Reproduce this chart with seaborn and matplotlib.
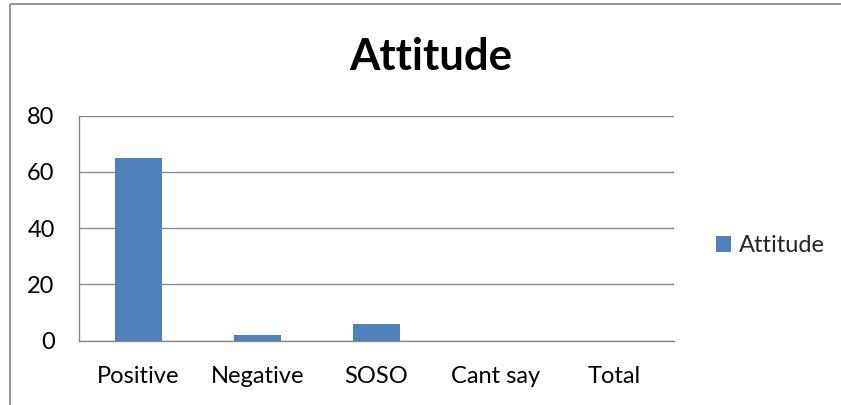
import matplotlib
matplotlib.use("Agg")
import matplotlib.pyplot as plt
from matplotlib.lines import Line2D
from matplotlib.patches import Patch
import seaborn as sns

categories = ["Positive", "Negative", "SOSO", "Cant say", "Total"]
attitude_values = [65, 2, 6, 0, 0]
y_ticks = [0, 20, 40, 60, 80]
series_name = "Attitude"
chart_title = "Attitude"

BAR_COLOR = "#4F81BD"
GRID_COLOR = "#868686"
FRAME_COLOR = "#8C8C8C"
LABEL_SIZE = 17
LINE_W = 0.95

sns.set_theme(style="white")
plt.rcParams["font.family"] = ["Lato", "DejaVu Sans"]

W, H = 841, 405
fig = plt.figure(figsize=(W / 100, H / 100), dpi=100)

# chart frame: top and left edges (the rest runs off the image)
fig.add_artist(Line2D([9.5 / W, 1.1], [(H - 4) / H, (H - 4) / H], transform=fig.transFigure,
                      color=FRAME_COLOR, linewidth=1.3, solid_capstyle="butt"))
fig.add_artist(Line2D([9.5 / W, 9.5 / W], [-0.1, (H - 4) / H], transform=fig.transFigure,
                      color=FRAME_COLOR, linewidth=1.3, solid_capstyle="butt"))

left, right, top, bottom = 79, 674, 115.7, 340.7
ax = fig.add_axes([left / W, (H - bottom) / H, (right - left) / W, (bottom - top) / H])

sns.barplot(x=categories, y=attitude_values, color=BAR_COLOR, width=0.4,
            saturation=1, linewidth=0, ax=ax, zorder=3)

ax.set_xlim(-0.5, len(categories) - 0.5)
ax.set_ylim(0, 80)
ax.set_yticks(y_ticks)
ax.set_yticklabels([str(v) for v in y_ticks])
ax.yaxis.grid(True, color=GRID_COLOR, linewidth=LINE_W)
ax.set_axisbelow(True)

# boundary ticks between categories, labels at category centres
ax.set_xticks([i - 0.5 for i in range(len(categories) + 1)])
ax.set_xticklabels([])
ax.set_xticks(range(len(categories)), minor=True)
ax.set_xticklabels(categories, minor=True)
ax.tick_params(axis="x", which="major", length=6, width=LINE_W, color=GRID_COLOR, direction="out")
ax.tick_params(axis="x", which="minor", length=0, pad=18, labelsize=LABEL_SIZE, labelcolor="black")
ax.tick_params(axis="y", length=6.5, width=LINE_W, color=GRID_COLOR, direction="out",
               pad=11, labelsize=LABEL_SIZE, labelcolor="black")
ax.set_xlabel("")
ax.set_ylabel("")

for side in ("top", "right"):
    ax.spines[side].set_visible(False)
for side in ("left", "bottom"):
    ax.spines[side].set_color(GRID_COLOR)
    ax.spines[side].set_linewidth(LINE_W)

fig.text(431 / W, (H - 70) / H, chart_title, ha="center", va="baseline",
         fontsize=31.5, fontweight="bold", color="black")

fig.legend(handles=[Patch(facecolor=BAR_COLOR, edgecolor="none", label=series_name)],
           loc="center left", bbox_to_anchor=(716 / W, (H - 246) / H),
           frameon=False, fontsize=LABEL_SIZE, handlelength=0.65, handleheight=0.65,
           handletextpad=0.3, borderpad=0, borderaxespad=0)

fig.savefig("out.png", dpi=100)
